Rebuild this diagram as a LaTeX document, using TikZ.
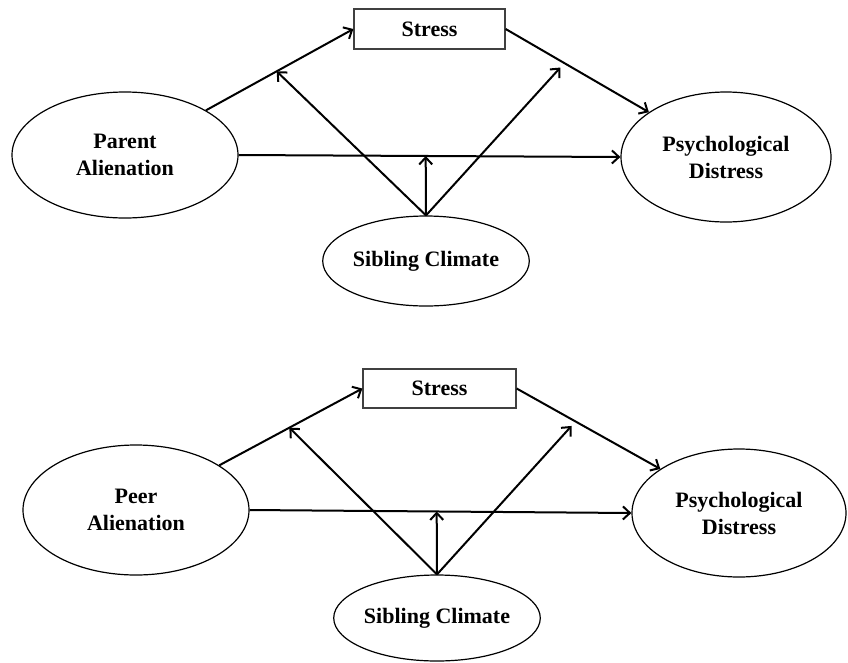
\documentclass[tikz,border=0pt]{standalone}
\usepackage{fontspec}
\setmainfont{Liberation Serif}
\usetikzlibrary{arrows.meta,shapes.geometric}

\begin{document}
\begin{tikzpicture}[
  x=1pt,y=-1pt,
  latent/.style={ellipse,draw,line width=1.2pt,inner sep=0pt,align=center,
    font=\fontsize{22}{27}\selectfont\bfseries},
  mediator/.style={rectangle,draw=black!75,line width=1.3pt,inner sep=0pt,
    font=\fontsize{22}{27}\selectfont\bfseries},
  arrow/.style={-{Straight Barb[length=7pt,width=13pt]},line width=2pt}
]
\useasboundingbox (0,0) rectangle (848,662);

% parent model
\node[latent,minimum width=226pt,minimum height=126pt] (parent) at (125,155) {Parent\\Alienation};
\node[mediator,minimum width=151pt,minimum height=40pt] (stress1) at (429.5,29) {Stress};
\node[latent,minimum width=210pt,minimum height=130pt] (distress1) at (726,157) {Psychological\\Distress};
\node[latent,minimum width=202pt,minimum height=90pt] (sibling1) at (426,261) {Sibling Climate};
\draw[arrow] (parent) -- coordinate[pos=0.48] (mod1a) (stress1.west);
\draw[arrow] (stress1.east) -- coordinate[pos=0.41] (mod1c) (distress1);
\draw[arrow] (parent.east) -- coordinate[pos=0.49] (mod1b) (distress1.west);
\draw[arrow] (sibling1.north) -- (mod1a);
\draw[arrow] (sibling1.north) -- (mod1b);
\draw[arrow,shorten >=6pt] (sibling1.north) -- (mod1c);

% peer model
\node[latent,minimum width=226pt,minimum height=130pt] (peer) at (136,510) {Peer\\Alienation};
\node[mediator,minimum width=153pt,minimum height=39pt] (stress2) at (439.5,388.5) {Stress};
\node[latent,minimum width=214pt,minimum height=128pt] (distress2) at (739,513) {Psychological\\Distress};
\node[latent,minimum width=204pt,minimum height=86pt] (sibling2) at (437,618) {Sibling Climate};
\draw[arrow] (peer) -- coordinate[pos=0.49] (mod2a) (stress2.west);
\draw[arrow] (stress2.east) -- coordinate[pos=0.41] (mod2c) (distress2);
\draw[arrow] (peer.east) -- coordinate[pos=0.49] (mod2b) (distress2.west);
\draw[arrow] (sibling2.north) -- (mod2a);
\draw[arrow] (sibling2.north) -- (mod2b);
\draw[arrow,shorten >=6pt] (sibling2.north) -- (mod2c);
\end{tikzpicture}
\end{document}
